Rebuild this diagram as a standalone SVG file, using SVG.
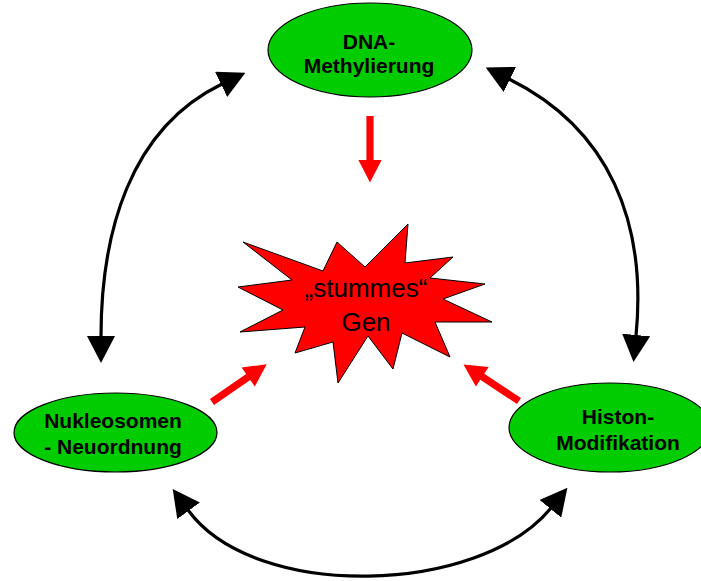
<svg xmlns="http://www.w3.org/2000/svg" width="701" height="581" viewBox="0 0 701 581">
<style>
.node ellipse{fill:#00cc00;stroke:#000;stroke-width:1.2}
.lbl{font-family:"Liberation Sans",Arial,sans-serif;font-weight:bold;font-size:21px;text-anchor:middle;fill:#000}
.conn{fill:none;stroke:#000;stroke-width:3.2;marker-start:url(#ah);marker-end:url(#ah)}
.red{fill:#ff0000}
</style>
<defs>
<marker id="ah" markerUnits="userSpaceOnUse" viewBox="0 0 27 28" markerWidth="27" markerHeight="28" refX="1" refY="14" orient="auto-start-reverse">
<path d="M0,0 L27,14 L0,28 Z" fill="#000"/>
</marker>
<path id="redArrow" d="M0,-3.6 L44,-3.6 L44,-11.6 L66.5,0 L44,11.6 L44,3.6 L0,3.6 Z"/>
</defs>
<rect width="701" height="581" fill="#fff"/>
<g id="connectors">
<path class="conn" d="M101,337 C101,234 129,129 222,84"/>
<path class="conn" d="M509,79 C610,129 647,223 636,336"/>
<path class="conn" d="M188,510 C255,602 480,595 551,508"/>
<use href="#redArrow" class="red" transform="translate(370,116) rotate(90)"/>
<use href="#redArrow" class="red" transform="translate(212,402) rotate(-34.6)"/>
<use href="#redArrow" class="red" transform="translate(519,401) rotate(-146.6)"/>
</g>
<g id="gen">
<polygon points="243,242 323,271 337,242 365,267 408,224 405,263 453,257 430,278 485,284 443,299 492,322 435,322 450,357 402,333 393,369 368,336 338,383 333,342 295,353 305,327 240,332 283,310 238,287 292,280" fill="#ff0000" stroke="#000" stroke-width="1"/>
<text x="366" y="297" font-family="'Liberation Sans',Arial,sans-serif" font-size="26" text-anchor="middle">„stummes“</text>
<text x="366" y="331" font-family="'Liberation Sans',Arial,sans-serif" font-size="26" text-anchor="middle">Gen</text>
</g>
<g id="dna" class="node">
<ellipse cx="370" cy="50" rx="102" ry="47"/>
<text class="lbl" x="369" y="49">DNA-</text>
<text class="lbl" x="369" y="73">Methylierung</text>
</g>
<g id="nukleosomen" class="node">
<ellipse cx="115.5" cy="432.5" rx="101.5" ry="39.5"/>
<text class="lbl" x="113" y="428">Nukleosomen</text>
<text class="lbl" x="113" y="454">- Neuordnung</text>
</g>
<g id="histon" class="node">
<ellipse cx="610" cy="427.5" rx="101" ry="44.5"/>
<text class="lbl" x="618" y="424">Histon-</text>
<text class="lbl" x="618" y="450">Modifikation</text>
</g>
</svg>
